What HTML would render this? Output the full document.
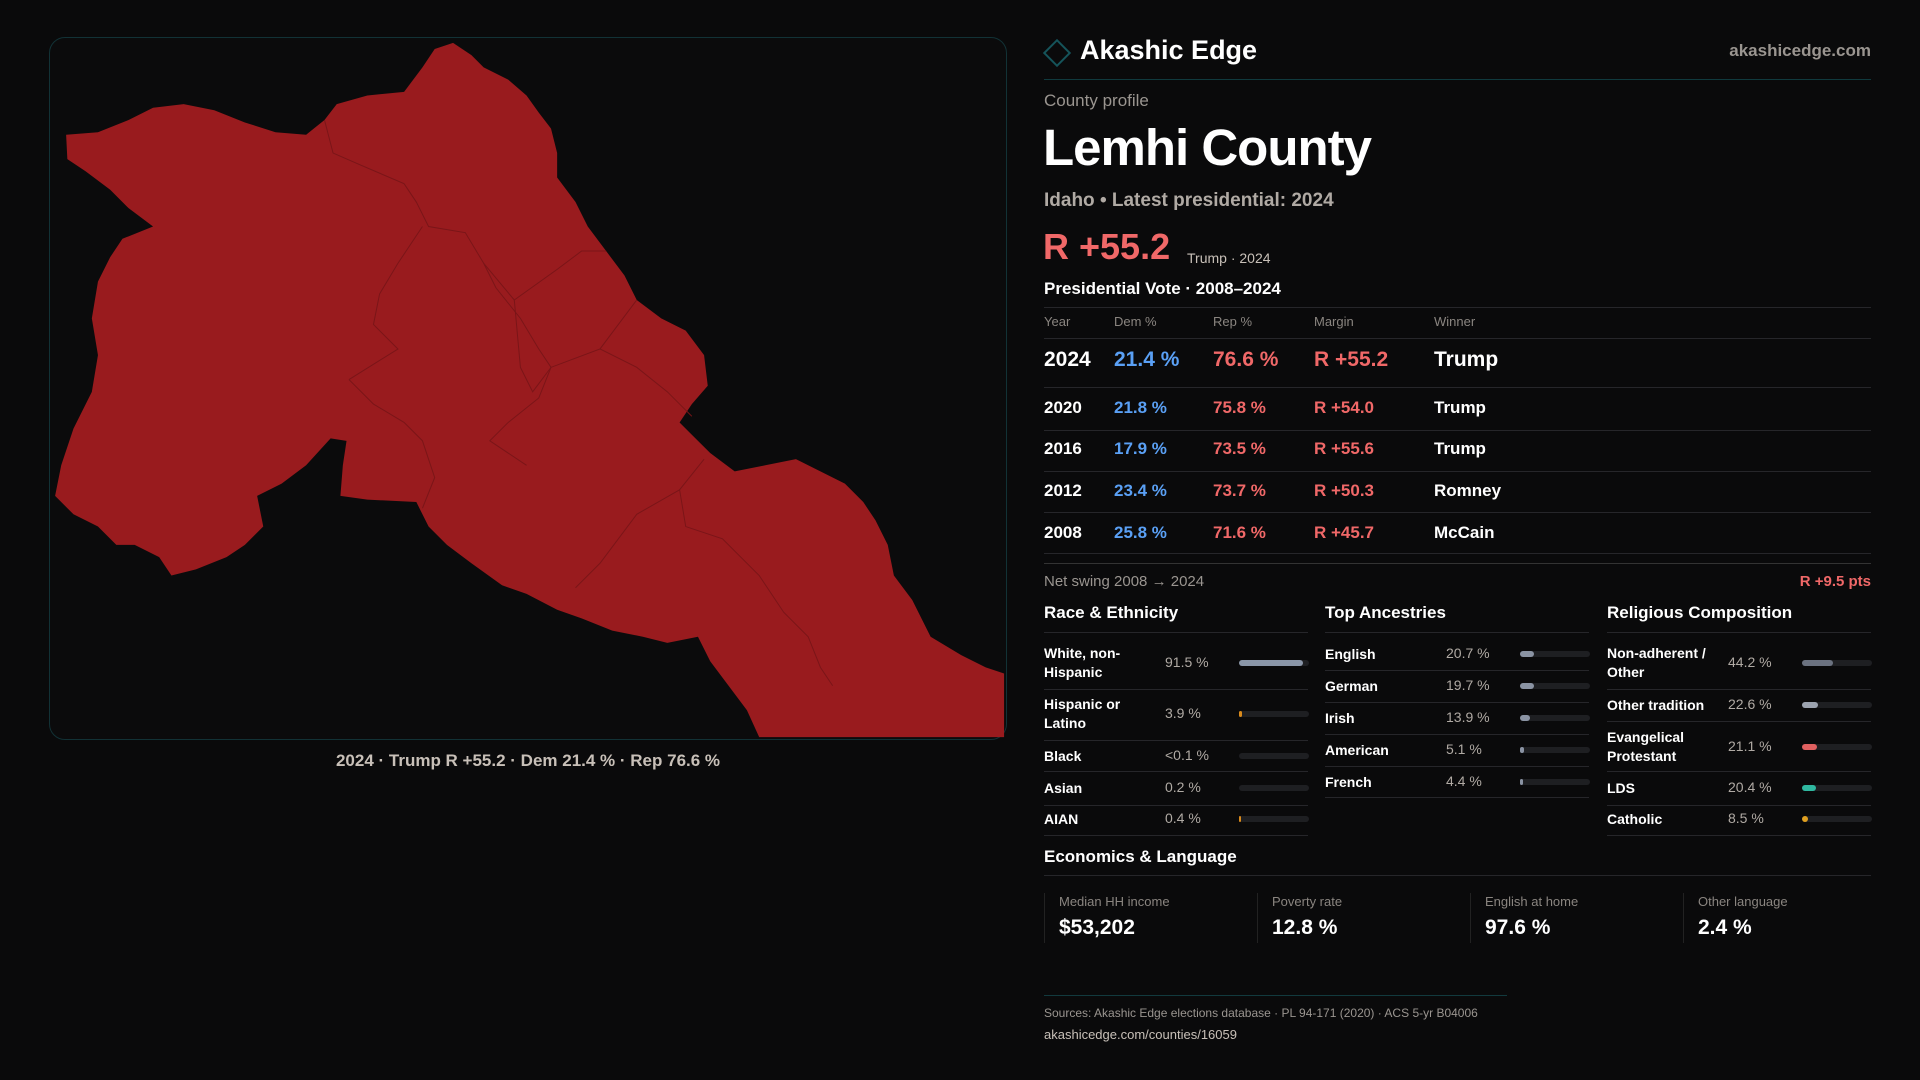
<!DOCTYPE html>
<html><head><meta charset="utf-8"><style>
*{margin:0;padding:0;box-sizing:border-box}
body{width:1920px;height:1080px;background:#0a0a0b;font-family:"Liberation Sans",sans-serif;color:#fff;position:relative;overflow:hidden}
.a{position:absolute;white-space:nowrap}
.hl{position:absolute;height:1px;background:#26262a}
.g{color:#9a9590}
.blue{color:#5aa0f5}.red{color:#f06868}
.track{position:absolute;height:6px;border-radius:3px;background:#1e1f22}
.fill{position:absolute;left:0;top:0;height:6px;border-radius:3px}
</style></head><body>
<div class="a" style="left:49px;top:37px;width:958px;height:703px;border:1px solid #123236;border-radius:16px;background:#0b0b0c;overflow:hidden"></div>
<svg class="a" style="left:0;top:0" width="1920" height="1080" viewBox="0 0 1568 882">
<polygon fill="#991b1e" points="54,110 80,108 105,98 125,88 150,85 175,90 200,100 225,108 250,110 265,98 275,85 300,78 330,75 345,55 355,40 370,35 385,45 395,55 415,65 430,78 440,92 450,105 455,125 455,145 470,165 480,185 495,205 510,225 520,245 540,260 560,270 575,290 578,315 565,330 555,345 565,355 580,370 600,385 625,380 650,375 670,385 690,395 705,410 715,425 725,445 730,470 745,490 760,520 785,535 805,545 820,550 820,602 620,602 610,580 595,560 580,540 570,520 545,525 525,520 500,515 475,505 455,498 430,485 410,478 385,460 365,445 350,430 340,410 300,408 278,405 280,380 283,360 270,358 250,380 230,395 210,405 215,430 200,445 185,455 160,465 140,470 130,455 110,445 95,445 80,430 60,420 45,405 50,380 60,350 75,320 80,290 75,260 80,230 90,210 100,195 125,185 105,170 90,155 70,140 55,130"/>
<g stroke="#7a1518" stroke-width="0.8" fill="none">
<polyline points="265,98 272,125 295,135 330,150 340,165 350,185 380,190 395,215 405,235 425,260 440,285 450,300 440,325 415,345 400,360 430,380"/>
<polyline points="285,310 305,330 330,345 345,360 355,390 345,415"/>
<polyline points="345,185 325,215 310,240 305,265 325,285 285,310"/>
<polyline points="395,215 420,245 455,220 475,205 495,205"/>
<polyline points="420,245 425,300 435,320 450,300 490,285 520,245"/>
<polyline points="490,285 520,300 545,320 565,340"/>
<polyline points="575,375 555,400 560,430 590,440 620,470 640,500 660,520 670,545 680,560"/>
<polyline points="555,400 520,420 490,460 470,480"/>
</g></svg>
<div class="a" style="left:0;width:1056px;top:751px;text-align:center;font-size:17px;color:#c8c0b8;font-weight:bold">2024 · Trump R +55.2 · Dem 21.4 % · Rep 76.6 %</div>

<div class="a" style="left:1047px;top:43px;width:20px;height:20px;border:2px solid #15545a;transform:rotate(45deg)"></div>
<div class="a" style="left:1080px;top:35px;font-size:27px;font-weight:bold">Akashic Edge</div>
<div class="a g" style="right:49px;top:41px;font-size:17px;font-weight:bold">akashicedge.com</div>
<div class="hl" style="left:1044px;width:827px;top:79px;background:#103a3e"></div>
<div class="a g" style="left:1044px;top:91px;font-size:17px">County profile</div>
<div class="a" style="left:1043px;top:118px;font-size:51px;font-weight:bold;letter-spacing:-1px">Lemhi County</div>
<div class="a g" style="left:1044px;top:190px;font-size:19px;font-weight:bold;color:#b0aaa4">Idaho • Latest presidential: 2024</div>
<div class="a red" style="left:1043px;top:226px;font-size:36px;font-weight:bold">R +55.2</div>
<div class="a" style="left:1187px;top:250px;font-size:14px;color:#c8c0b8">Trump · 2024</div>
<div class="a" style="left:1044px;top:279px;font-size:17px;font-weight:bold">Presidential Vote · 2008–2024</div>
<div id="tbl"></div>
<div class="a g" style="left:1044px;top:573px;font-size:15px">Net swing 2008 → 2024</div>
<div class="a red" style="right:49px;top:573px;font-size:15px;font-weight:bold">R +9.5 pts</div>
<div id="sections"></div>
<div class="a" style="left:1044px;top:847px;font-size:17px;font-weight:bold">Economics &amp; Language</div>
<div class="hl" style="left:1044px;width:827px;top:875px"></div>
<div id="stats"></div>
<div class="hl" style="left:1044px;width:463px;top:995px;background:#123a3e"></div>
<div class="a g" style="left:1044px;top:1006px;font-size:12px">Sources: Akashic Edge elections database · PL 94-171 (2020) · ACS 5-yr B04006</div>
<div class="a" style="left:1044px;top:1027px;font-size:13px;color:#c8c0b8">akashicedge.com/counties/16059</div>
<script>
const years=["2024","2020","2016","2012","2008"];
const demPct=[21.4,21.8,17.9,23.4,25.8];
const repPct=[76.6,75.8,73.5,73.7,71.6];
const margins=[55.2,54.0,55.6,50.3,45.7];
const winners=["Trump","Trump","Trump","Romney","McCain"];
const raceLabels=["White, non-Hispanic","Hispanic or Latino","Black","Asian","AIAN"];
const raceValues=[91.5,3.9,0.05,0.2,0.4];
const raceText=["91.5 %","3.9 %","<0.1 %","0.2 %","0.4 %"];
const ancLabels=["English","German","Irish","American","French"];
const ancValues=[20.7,19.7,13.9,5.1,4.4];
const relLabels=["Non-adherent / Other","Other tradition","Evangelical Protestant","LDS","Catholic"];
const relValues=[44.2,22.6,21.1,20.4,8.5];
const statLabels=["Median HH income","Poverty rate","English at home","Other language"];
const statValues=["$53,202","12.8 %","97.6 %","2.4 %"];

function div(parent,css,txt){const d=document.createElement('div');d.className='a';d.style.cssText=css;if(txt!==undefined)d.textContent=txt;parent.appendChild(d);return d;}
function line(parent,x,w,y,c){const d=document.createElement('div');d.className='hl';d.style.cssText=`left:${x}px;width:${w}px;top:${y}px`+(c?`;background:${c}`:'');parent.appendChild(d);}
const T=document.getElementById('tbl');
const colX=[1044,1114,1213,1314,1434];
["Year","Dem %","Rep %","Margin","Winner"].forEach((h,i)=>{const e=div(T,`left:${colX[i]}px;top:314px;font-size:13px;color:#8a8580`,h);

});
line(T,1044,827,307);line(T,1044,827,338);
const rowY=[361,408,449,491,533],rowLine=[387,430,471,512,553];
years.forEach((y,i)=>{const fs=i==0?21:17;const top=rowY[i]-fs*0.6;
const vals=[y,demPct[i].toFixed(1)+" %",repPct[i].toFixed(1)+" %","R +"+margins[i].toFixed(1),winners[i]];
const cols=["#fff","#5aa0f5","#f06868","#f06868","#fff"];
vals.forEach((v,j)=>{const e=div(T,`left:${colX[j]}px;top:${top}px;font-size:${fs}px;font-weight:bold;color:${cols[j]}`,v);

});
line(T,1044,827,rowLine[i]);});
line(T,1044,827,563,'#333');

const S=document.getElementById('sections');
function section(x,title,labels,values,texts,colors,rowsY,lines){
const h=div(S,`left:${x}px;top:603px;font-size:17px;font-weight:bold`,title);


line(S,x,264,632);
labels.forEach((l,i)=>{const two=l.length>16&&x!==1325;
const lab=div(S,`left:${x}px;top:${rowsY[i]-(two?19:9)}px;font-size:14px;font-weight:bold;white-space:normal;width:110px;line-height:19px`,l);


const v=div(S,`left:${x+121}px;top:${rowsY[i]-9}px;font-size:14px;color:#b0aaa4`,texts[i]);


const tr=document.createElement('div');tr.className='track';tr.style.cssText=`left:${x+195}px;top:${rowsY[i]-3}px;width:70px`;S.appendChild(tr);


const f=document.createElement('div');f.className='fill';f.style.cssText=`width:${values[i]>0.3?Math.max(values[i]*0.7,2):0}px;background:${colors[i]}`;tr.appendChild(f);


line(S,x,264,lines[i]);});}
section(1044,"Race & Ethnicity",raceLabels,raceValues,raceText,["#8a96a8","#d98a1c","#d98a1c","#d98a1c","#d98a1c"],[663,714,756,788,819],[689,740,771,805,835]);
section(1325,"Top Ancestries",ancLabels,ancValues,ancValues.map(v=>v.toFixed(1)+" %"),Array(5).fill("#8a93a3"),[654,686,718,750,782],[670,702,734,766,797]);
section(1607,"Religious Composition",relLabels,relValues,relValues.map(v=>v.toFixed(1)+" %"),["#6b7280","#9ca3af","#e06060","#2fb8a0","#e0a020"],[663,705,747,788,819],[689,721,771,805,835]);

const ST=document.getElementById('stats');
const sx=[1044,1257,1470,1683];
statLabels.forEach((l,i)=>{const b=div(ST,`left:${sx[i]}px;top:893px;width:1px;height:50px;background:#222`);


const a=div(ST,`left:${sx[i]+15}px;top:894px;font-size:13px;color:#8a8580`,l);


const v=div(ST,`left:${sx[i]+15}px;top:916px;font-size:21px;font-weight:bold`,statValues[i]);

});
</script>
</body></html>
